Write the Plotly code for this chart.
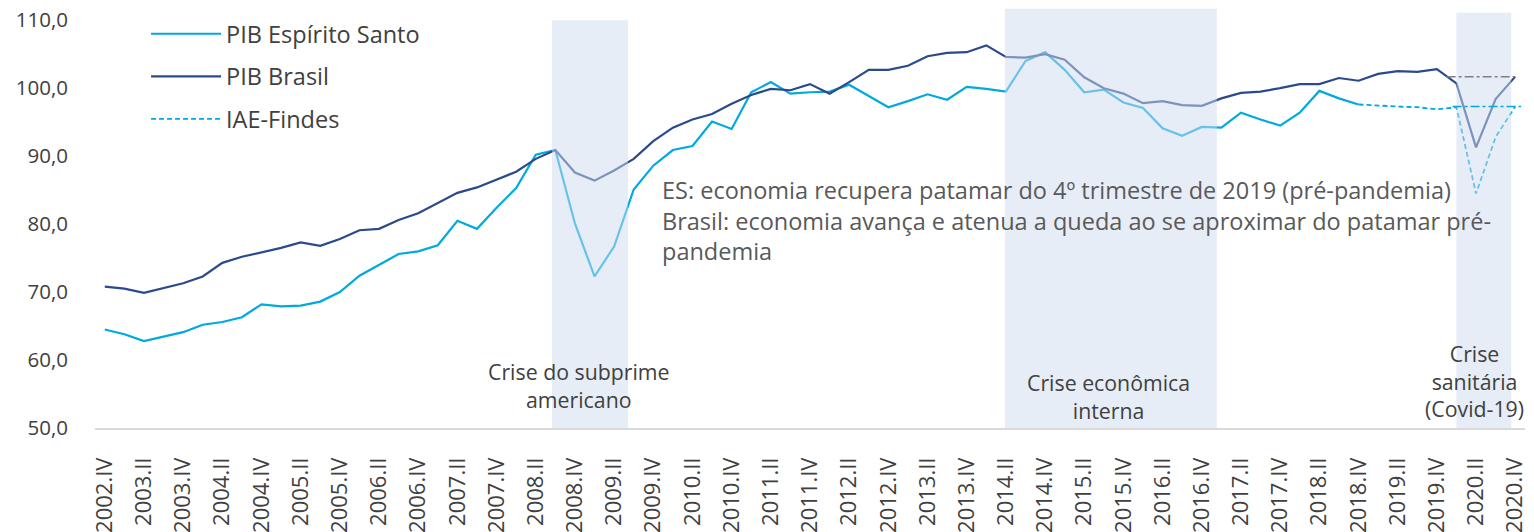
import plotly.graph_objects as go

quarters = [
    "2002.IV",
    "2003.I", "2003.II", "2003.III", "2003.IV",
    "2004.I", "2004.II", "2004.III", "2004.IV",
    "2005.I", "2005.II", "2005.III", "2005.IV",
    "2006.I", "2006.II", "2006.III", "2006.IV",
    "2007.I", "2007.II", "2007.III", "2007.IV",
    "2008.I", "2008.II", "2008.III", "2008.IV",
    "2009.I", "2009.II", "2009.III", "2009.IV",
    "2010.I", "2010.II", "2010.III", "2010.IV",
    "2011.I", "2011.II", "2011.III", "2011.IV",
    "2012.I", "2012.II", "2012.III", "2012.IV",
    "2013.I", "2013.II", "2013.III", "2013.IV",
    "2014.I", "2014.II", "2014.III", "2014.IV",
    "2015.I", "2015.II", "2015.III", "2015.IV",
    "2016.I", "2016.II", "2016.III", "2016.IV",
    "2017.I", "2017.II", "2017.III", "2017.IV",
    "2018.I", "2018.II", "2018.III", "2018.IV",
    "2019.I", "2019.II", "2019.III", "2019.IV",
    "2020.I", "2020.II", "2020.III", "2020.IV",
]

# PIB Espírito Santo (2002.IV - 2018.IV)
pib_es = [
    64.5, 63.8, 62.8, 63.5, 64.1, 65.2, 65.6, 66.3, 68.2, 67.9,
    68.0, 68.6, 70.0, 72.4, 74.0, 75.6, 76.0, 76.9, 80.5, 79.3,
    82.4, 85.3, 90.2, 90.9, 80.1, 72.3, 76.7, 85.1, 88.6, 90.9,
    91.5, 95.1, 94.0, 99.4, 100.9, 99.2, 99.4, 99.5, 100.5, 98.9,
    97.2, 98.1, 99.1, 98.3, 100.2, 99.9, 99.5, 104.0, 105.3, 102.7,
    99.4, 99.8, 97.9, 97.1, 94.1, 93.0, 94.3, 94.2, 96.4, 95.4,
    94.5, 96.4, 99.6, 98.5, 97.6,
]

# PIB Brasil (2002.IV - 2020.IV)
pib_br = [
    70.8, 70.5, 69.9, 70.6, 71.3, 72.3, 74.3, 75.2, 75.8, 76.5,
    77.3, 76.8, 77.8, 79.1, 79.3, 80.6, 81.6, 83.1, 84.6, 85.4,
    86.6, 87.7, 89.6, 90.9, 87.6, 86.4, 87.9, 89.6, 92.2, 94.2,
    95.4, 96.2, 97.7, 99.0, 99.9, 99.7, 100.6, 99.2, 100.9, 102.7,
    102.7, 103.3, 104.7, 105.2, 105.3, 106.3, 104.6, 104.5, 105.0, 104.2,
    101.6, 100.0, 99.2, 97.8, 98.1, 97.5, 97.4, 98.5, 99.3, 99.5,
    100.0, 100.6, 100.6, 101.5, 101.1, 102.1, 102.5, 102.4, 102.8, 100.7,
    91.3, 98.4, 101.7,
]

# IAE-Findes (2018.IV - 2020.IV)
iae_quarters = quarters[64:]
iae_findes = [97.6, 97.4, 97.3, 97.2, 96.9, 97.2, 84.5, 92.8, 97.3]

# Crisis periods
crisis_start = ["2008.III", "2014.II", "2020.I"]
crisis_end = ["2009.II", "2016.IV", "2020.III"]
crisis_top = [110.0, 111.7, 111.1]
crisis_labels = [
    "Crise do subprime<br>americano",
    "Crise econômica<br>interna",
    "Crise<br>sanitária<br>(Covid-19)",
]

note_text = (
    "ES: economia recupera patamar do 4º trimestre de 2019 (pré-pandemia)<br>"
    "Brasil: economia avança e atenua a queda ao se aproximar do patamar pré-<br>"
    "pandemia"
)

y_ticks = [50, 60, 70, 80, 90, 100, 110]
y_ticktext = ["50,0", "60,0", "70,0", "80,0", "90,0", "100,0", "110,0"]

FONT = "Open Sans, Noto Sans, sans-serif"
C_ES = "#00A9E0"
C_BR = "#2B4A8B"
TXT = "#404040"

fig = go.Figure()
fig.add_trace(go.Scatter(
    x=quarters[:len(pib_es)], y=pib_es, mode="lines", name="PIB Espírito Santo",
    line=dict(color=C_ES, width=2.2), legendgroup="a",
))
fig.add_trace(go.Scatter(
    x=quarters, y=pib_br, mode="lines", name="PIB Brasil",
    line=dict(color=C_BR, width=2.2), legendgroup="b",
))
fig.add_trace(go.Scatter(
    x=iae_quarters, y=iae_findes, mode="lines", name="IAE-Findes",
    line=dict(color=C_ES, width=1.8, dash="5px,3px"), legendgroup="c",
))

shapes = []
pad_left = [0.17, 0.05, 0.0]
pad_right = [0.71, 0.77, 0.8]
for s, e, top, pl, pr in zip(crisis_start, crisis_end, crisis_top, pad_left, pad_right):
    i0 = quarters.index(s) - pl
    i1 = quarters.index(e) + pr
    shapes.append(dict(
        type="rect", xref="x", yref="y", x0=i0, x1=i1, y0=50, y1=top,
        fillcolor="rgba(208,220,239,0.5)", line=dict(width=0), layer="above",
    ))

# Pre-pandemic reference levels (dash-dot), drawn above the shading
n = len(quarters) - 1
shapes.append(dict(
    type="line", xref="x", yref="y", x0=n - 3.5, x1=n, y0=pib_br[-1], y1=pib_br[-1],
    line=dict(color="#808080", width=1.5, dash="dashdot"), layer="above",
))
shapes.append(dict(
    type="line", xref="x", yref="y", x0=n - 3.2, x1=n + 0.3, y0=iae_findes[-1], y1=iae_findes[-1],
    line=dict(color=C_ES, width=1.5, dash="dashdot"), layer="above",
))

annotations = []
label_x = [24.2, 51.25, 69.9]
label_y = [56.3, 54.7, 56.9]
for t, lx, ly in zip(crisis_labels, label_x, label_y):
    annotations.append(dict(
        x=lx, y=ly, xref="x", yref="y", text=t, showarrow=False,
        xanchor="center", yanchor="middle", align="center",
        font=dict(family=FONT, size=21.3, color=TXT),
    ))
annotations.append(dict(
    x=28.35, y=80.6, xref="x", yref="y", text=note_text, showarrow=False,
    xanchor="left", yanchor="middle", align="left",
    font=dict(family=FONT, size=23.5, color="#595959"),
))

fig.update_layout(
    width=1534, height=532,
    margin=dict(l=95, r=9, t=8, b=104),
    paper_bgcolor="white", plot_bgcolor="white",
    font=dict(family=FONT, size=21, color=TXT),
    shapes=shapes, annotations=annotations,
    showlegend=True,
    legend=dict(
        x=0.0357, y=0.9905, xanchor="left", yanchor="top",
        bgcolor="rgba(0,0,0,0)", font=dict(family=FONT, size=23.5, color=TXT),
        tracegroupgap=9, itemwidth=70,
    ),
    xaxis=dict(
        type="category", range=[-0.5, 72.5], automargin=False,
        tickmode="array", tickvals=quarters[::2], ticktext=quarters[::2],
        tickangle=-90, tickfont=dict(family=FONT, size=22, color=TXT),
        showgrid=False, zeroline=False, showline=True, linecolor="#D9D9D9", linewidth=1.5,
        ticks="", ticklabelstandoff=19,
    ),
    yaxis=dict(
        range=[50, 111.8], automargin=False,
        tickmode="array", tickvals=y_ticks, ticktext=y_ticktext,
        tickfont=dict(family=FONT, size=20.5, color=TXT),
        showgrid=False, zeroline=False, showline=False, ticks="",
        ticklabelstandoff=26,
    ),
)

fig.write_html(
    "out.html",
    config={"displayModeBar": False},
    post_script="document.body.style.margin='0px';",
)
